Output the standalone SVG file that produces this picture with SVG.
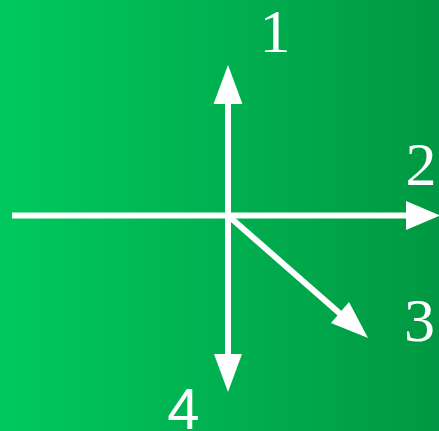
<svg xmlns="http://www.w3.org/2000/svg" width="439" height="431" viewBox="0 0 439 431">
<defs>
<linearGradient id="bg" x1="0" y1="0" x2="1" y2="0">
<stop offset="0" stop-color="#00c95e"/>
<stop offset="1" stop-color="#009842"/>
</linearGradient>
<style>
.ln{stroke:#fff;stroke-width:6;fill:none}
.hd{fill:#fff}
.lb{fill:#fff;font-family:"Liberation Serif",serif;font-size:62px;text-anchor:middle}
.lbs{fill:#fff;font-family:"Liberation Sans",sans-serif;font-size:58px;text-anchor:middle}
</style>
</defs>
<rect width="439" height="431" fill="url(#bg)"/>
<g id="connectors">
<line class="ln" x1="12" y1="215.5" x2="410" y2="215.5"/>
<polygon class="hd" points="440,215.5 406,201 406,230"/>
<line class="ln" x1="228" y1="100" x2="228" y2="358"/>
<polygon class="hd" points="228,65 213.5,104 242.5,104"/>
<polygon class="hd" points="228,392 214,354 242,354"/>
<line class="ln" x1="228" y1="215.5" x2="345" y2="318"/>
<polygon class="hd" points="368,338 331,323 349,302"/>
</g>
<g id="label1"><text class="lb" x="275" y="52">1</text></g>
<g id="label2"><text class="lb" x="421" y="185">2</text></g>
<g id="label3"><text class="lb" x="419.5" y="341">3</text></g>
<g id="label4"><text class="lbs" x="183.5" y="429">4</text></g>
</svg>
